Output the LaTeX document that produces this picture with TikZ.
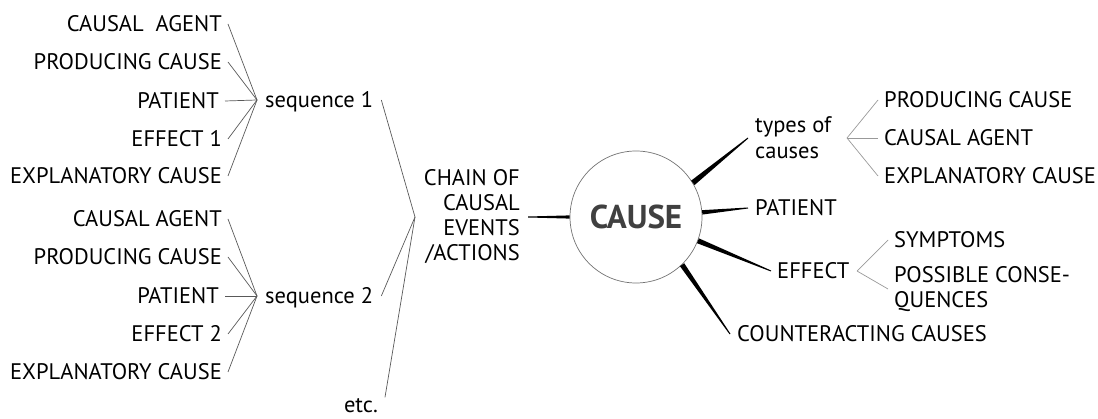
\documentclass[tikz,border=0pt]{standalone}
\usepackage{fontspec}
\setmainfont{PT Sans}
\usetikzlibrary{positioning,calc}
\tikzstyle{lbl}=[anchor=east, inner xsep=6pt, inner ysep=0pt, text height=15.5pt,
 text depth=0pt, font=\fontsize{22.5}{25}\selectfont]
\tikzstyle{rlbl}=[anchor=west, inner xsep=6pt, inner ysep=0pt, text height=15.5pt,
 text depth=0pt, font=\fontsize{22.5}{25}\selectfont]
\tikzstyle{mlbl}=[inner xsep=6pt, inner ysep=0pt, font=\fontsize{22.5}{25}\selectfont]
\tikzstyle{cbox}=[circle, draw=black!55, line width=0.7pt, minimum size=132pt,
 inner sep=0pt, text=black!75, font=\bfseries\fontsize{33}{33}\selectfont]
\tikzstyle{fline}=[-, line width=0.7pt, draw=black!65]
\tikzstyle{gline}=[-, line width=0.7pt, draw=black!40]
% tapered branch: thick at #1, thin at #2
\newcommand{\spoke}[3]{\fill[black] ($(#1)!#3!90:(#2)$) -- ($(#1)!#3!-90:(#2)$)
 -- ($(#2)!0.5pt!90:(#1)$) -- ($(#2)!0.5pt!-90:(#1)$) -- cycle;}

\begin{document}
\begin{tikzpicture}[x=1pt,y=-1pt]
\useasboundingbox (0,0) rectangle (1098,419);

% sequence 1
\node (ca1) [lbl] at (228,24) {CAUSAL\ \ AGENT};
\node (pc1) [lbl] at (228,62) {PRODUCING CAUSE};
\node (pa1) [lbl] at (225,101) {PATIENT};
\node (ef1) [lbl] at (228,139) {EFFECT 1};
\node (ex1) [lbl] at (228,176) {EXPLANATORY CAUSE};
\node (seq1) [rlbl, inner xsep=8pt] at (257,100) {sequence 1};
\foreach \n in {ca1,pc1,pa1,ef1,ex1}
 \draw[fline] (\n.east) -- (seq1.west);

% sequence 2
\node (ca2) [lbl] at (228,219) {CAUSAL AGENT};
\node (pc2) [lbl] at (228,257) {PRODUCING CAUSE};
\node (pa2) [lbl] at (225,296) {PATIENT};
\node (ef2) [lbl] at (228,334) {EFFECT 2};
\node (ex2) [lbl] at (228,372) {EXPLANATORY CAUSE};
\node (seq2) [rlbl, inner xsep=8pt] at (257,296) {sequence 2};
\foreach \n in {ca2,pc2,pa2,ef2,ex2}
 \draw[fline] (\n.east) -- (seq2.west);

\node (etc) [lbl, anchor=base east, inner xsep=7pt] at (385,413) {etc.};

% chain
\node (chain) [mlbl, anchor=east, align=right, inner xsep=8pt] at (528,217)
 {CHAIN OF\\CAUSAL\\EVENTS\\/ACTIONS};
\coordinate (chfork) at (415,217);
\draw[fline] (seq1.east) -- (chfork);
\draw[fline] (seq2.east) -- (chfork);
\draw[fline] (etc.north east) -- (chfork);

% centre
\node (cause) [cbox] at (636,217) {CAUSE};
\spoke{cause.west}{chain.east}{1.6pt}

% types of causes
\node (typ) [mlbl, anchor=west, align=left, inner xsep=7pt,
 font=\fontsize{22.5}{26}\selectfont] at (748,138) {types of\\causes};
\spoke{cause.31}{typ.west}{2.8pt}
\coordinate (typfork) at (847,138);
\node (pc3) [rlbl] at (878,100) {PRODUCING CAUSE};
\node (ca3) [rlbl] at (878,138) {CAUSAL AGENT};
\node (ex3) [rlbl] at (878,176) {EXPLANATORY CAUSE};
\foreach \n in {pc3,ca3,ex3}
 \draw[gline] (typfork) -- (\n.west);

% patient
\node (pa3) [rlbl, inner xsep=7pt] at (748,208) {PATIENT};
\spoke{cause.4}{pa3.west}{2.2pt}

% effect
\node (ef3) [rlbl] at (771,271) {EFFECT};
\spoke{cause.-21}{ef3.west}{2.6pt}
\coordinate (effork) at (857,271);
\node (sym) [rlbl] at (888,240) {SYMPTOMS};
\node (pos) [mlbl, anchor=west, align=left] at (888,289)
 {POSSIBLE CONSE-\\QUENCES};
\draw[gline] (effork) -- (sym.west);
\draw[gline] (effork) -- (pos.west);

% counteracting
\node (cnt) [rlbl, inner xsep=7pt] at (730,334) {COUNTERACTING CAUSES};
\spoke{cause.-46}{cnt.west}{2.6pt}

\end{tikzpicture}
\end{document}
